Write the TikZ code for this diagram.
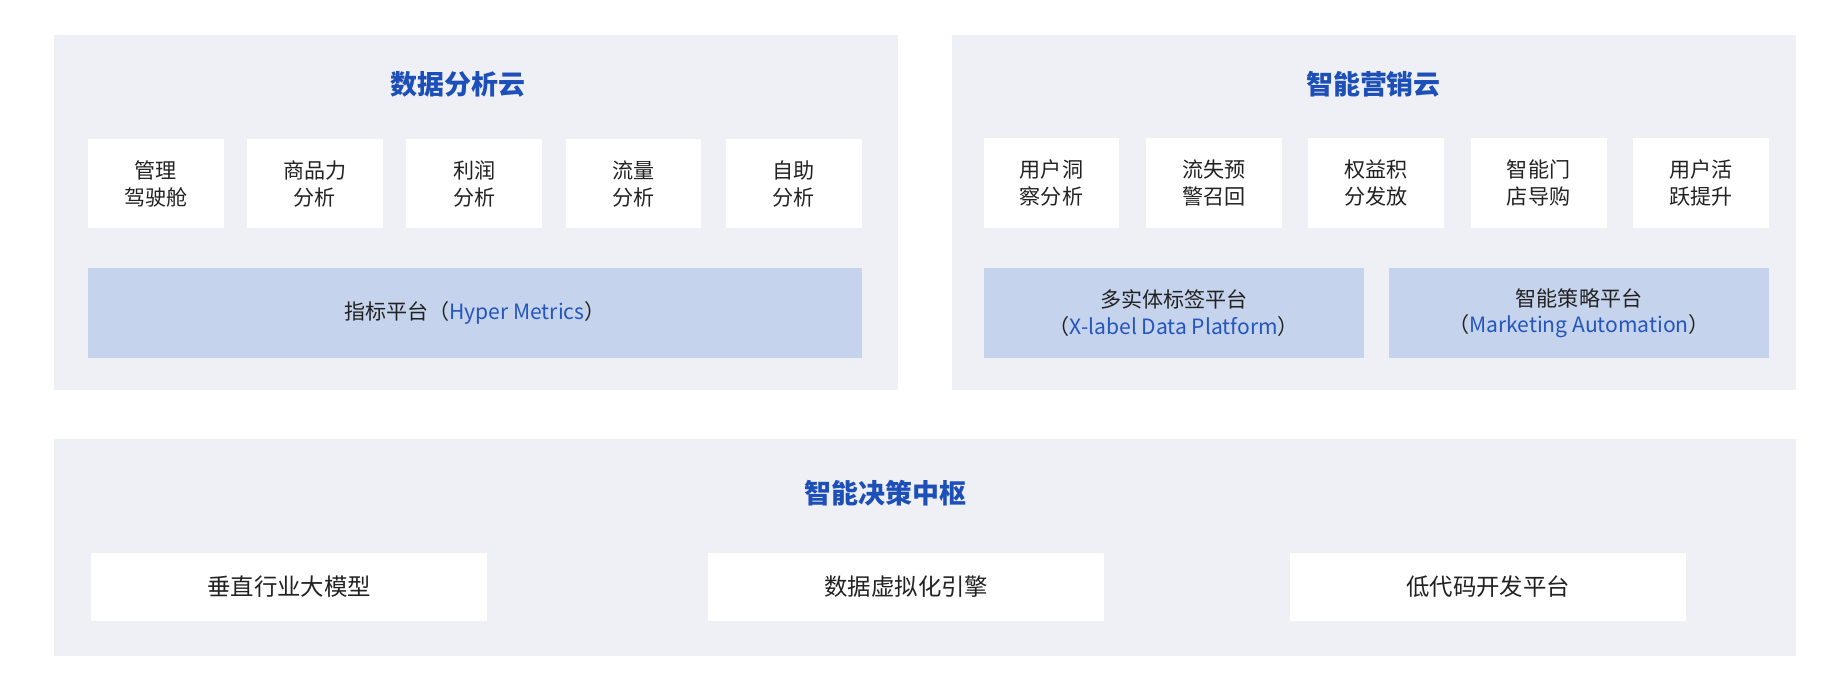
\documentclass[tikz,border=0pt]{standalone}
\usepackage{fontspec}
\setmainfont{Noto Sans CJK SC}
\begin{document}
\begin{tikzpicture}[x=0.5pt,y=-0.5pt,
  panel/.style={fill=panelbg,draw=none},
  wbox/.style={fill=white,draw=none,align=center,font=\fontsize{9}{11.5}\selectfont,text=txt},
  bbar/.style={fill=barbg,draw=none,align=center,font=\fontsize{9}{11.5}\selectfont,text=txt},
  ttl/.style={font=\fontsize{11.5}{14}\selectfont\bfseries,text=ttlblue}]
\definecolor{panelbg}{HTML}{EFF0F6}
\definecolor{barbg}{HTML}{C5D3EC}
\definecolor{ttlblue}{HTML}{1D4FB8}
\definecolor{enblue}{HTML}{2456BC}
\definecolor{txt}{HTML}{222222}
\useasboundingbox (0,0) rectangle (1568,585);
\fill[white] (0,0) rectangle (1568,585);
% panels
\path[panel] (46,30) rectangle (767,333);
\path[panel] (813,30) rectangle (1534,333);
\path[panel] (46,375) rectangle (1534,560);
\node[ttl] (t1) at (391,72) {数据分析云};
\node[ttl] (t2) at (1173,72) {智能营销云};
\node[ttl] (t3) at (756,421) {智能决策中枢};
% left boxes
\path[wbox] (75,119) rectangle node (a1) {管理\\驾驶舱} (191,195);
\path[wbox] (211,119) rectangle node (a2) {商品力\\分析} (327,195);
\path[wbox] (347,119) rectangle node (a3) {利润\\分析} (463,195);
\path[wbox] (483,119) rectangle node (a4) {流量\\分析} (599,195);
\path[wbox] (620,119) rectangle node (a5) {自助\\分析} (736,195);
\path[bbar] (75,229) rectangle node (m1) {指标平台（\textcolor{enblue}{Hyper Metrics}）} (736,306);
% right boxes
\path[wbox] (840,118) rectangle node (b1) {用户洞\\察分析} (956,195);
\path[wbox] (979,118) rectangle node (b2) {流失预\\警召回} (1095,195);
\path[wbox] (1117,118) rectangle node (b3) {权益积\\分发放} (1233,195);
\path[wbox] (1256,118) rectangle node (b4) {智能门\\店导购} (1372,195);
\path[wbox] (1395,118) rectangle node (b5) {用户活\\跃提升} (1511,195);
\path[bbar] (840,229) rectangle node (m2) {多实体标签平台\\（\textcolor{enblue}{X-label Data Platform}）} (1165,306);
\path[bbar] (1186,229) rectangle node (m3) {智能策略平台\\（\textcolor{enblue}{Marketing Automation}）} (1511,306);
% bottom
\path[wbox] (78,472) rectangle node[font=\fontsize{10}{12}\selectfont] (c1) {垂直行业大模型} (416,530);
\path[wbox] (605,472) rectangle node[font=\fontsize{10}{12}\selectfont] (c2) {数据虚拟化引擎} (943,530);
\path[wbox] (1102,472) rectangle node[font=\fontsize{10}{12}\selectfont] (c3) {低代码开发平台} (1440,530);
\end{tikzpicture}
\end{document}
